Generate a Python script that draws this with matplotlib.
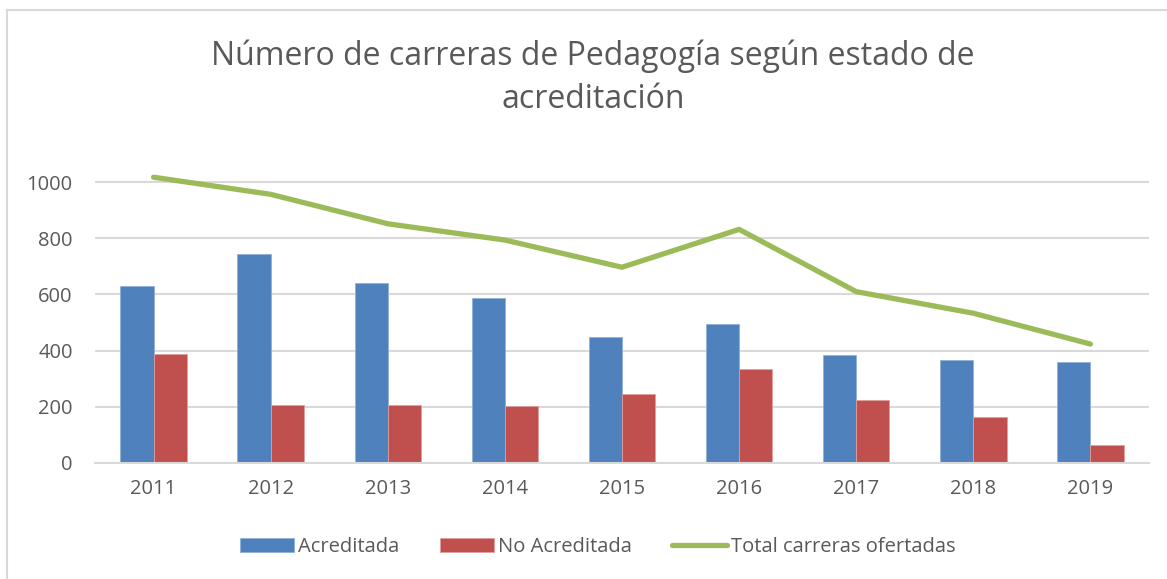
import matplotlib.pyplot as plt
import numpy as np
from matplotlib.lines import Line2D

plt.rcParams['font.family'] = ['Open Sans', 'DejaVu Sans']

# data
years = ['2011', '2012', '2013', '2014', '2015', '2016', '2017', '2018', '2019']
acreditada = [629, 745, 640, 589, 447, 493, 384, 365, 358]
no_acreditada = [387, 205, 207, 202, 246, 333, 224, 164, 63]
total = [1018, 957, 852, 794, 697, 832, 610, 533, 423]

blue = '#4F81BD'
red = '#C0504D'
green = '#9BBB59'
grey_txt = '#595959'
grid_c = '#D9D9D9'

fig = plt.figure(figsize=(11.67, 5.79), dpi=100)
ax = fig.add_axes([95 / 1167, 1 - 462.7 / 579, 1054 / 1167, (462.7 - 140.2) / 579])

x = np.arange(len(years))
w = 0.284
b1 = ax.bar(x - w / 2, acreditada, w, color=blue, edgecolor='#8FB0D8', linewidth=0.6,
            label='Acreditada', zorder=2)
b2 = ax.bar(x + w / 2, no_acreditada, w, color=red, edgecolor='#E0A09E', linewidth=0.6,
            label='No Acreditada', zorder=2)
ln, = ax.plot(x, total, color=green, lw=3.8, solid_capstyle='round',
              label='Total carreras ofertadas', zorder=3)

ax.set_xlim(-0.5, len(years) - 0.5)
ax.set_ylim(0, 1150)
ax.set_yticks([0, 200, 400, 600, 800, 1000])
ax.set_xticks(x)
ax.set_xticklabels(years)
ax.yaxis.grid(True, color=grid_c, lw=1.5, zorder=0)
ax.set_axisbelow(True)
for s in ['top', 'right', 'left']:
    ax.spines[s].set_visible(False)
ax.spines['bottom'].set_color(grid_c)
ax.spines['bottom'].set_linewidth(1.5)
ax.tick_params(axis='both', length=0, labelsize=14.5, colors=grey_txt)
ax.tick_params(axis='y', pad=16)
ax.tick_params(axis='x', pad=12)

fig.text(0.508, 1 - 56 / 579, 'Número de carreras de Pedagogía según estado de',
         ha='center', va='center', fontsize=23, color=grey_txt)
fig.text(0.508, 1 - 100 / 579, 'acreditación',
         ha='center', va='center', fontsize=23, color=grey_txt)

fig.legend([b1, b2, ln], ['Acreditada', 'No Acreditada', 'Total carreras ofertadas'],
           loc='center', bbox_to_anchor=(0.512, 1 - 547 / 579), ncol=3, frameon=False,
           fontsize=14.5, labelcolor=grey_txt, handlelength=2.7, handleheight=0.75,
           handletextpad=0.2, columnspacing=2.0)

# light frame around the chart
fig.add_artist(Line2D([7 / 1167, 1], [1 - 10 / 579, 1 - 10 / 579],
                      transform=fig.transFigure, color=grid_c, lw=1.5))
fig.add_artist(Line2D([7 / 1167, 7 / 1167], [0, 1 - 10 / 579],
                      transform=fig.transFigure, color=grid_c, lw=1.5))

fig.savefig('out.png', dpi=100)
